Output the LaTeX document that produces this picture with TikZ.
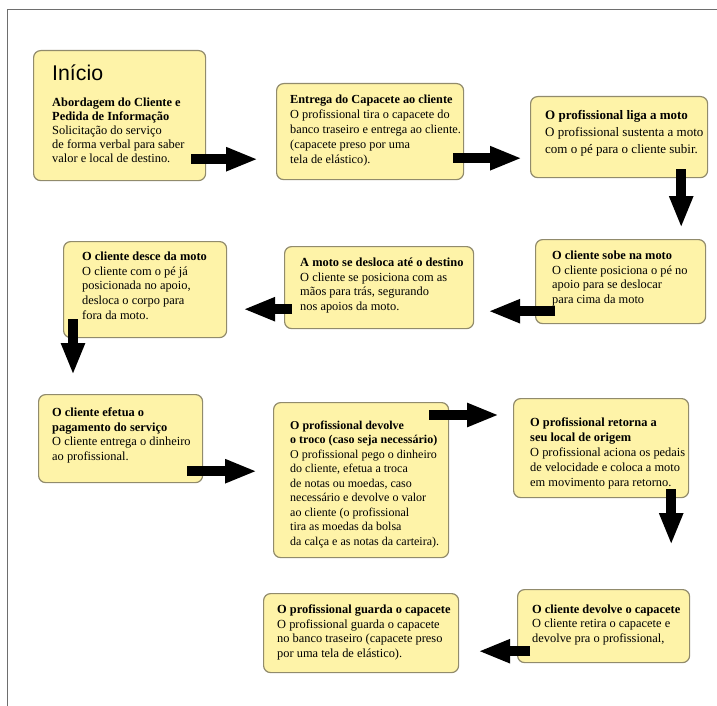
\documentclass[tikz,border=0pt]{standalone}
\usepackage{fontspec}
\setmainfont{Liberation Serif}
\newfontfamily\titulofont{Liberation Sans}
\usepackage{tikz}
\usetikzlibrary{arrows.meta,positioning,calc}
\definecolor{fundoEtapa}{RGB}{254,243,168}
\definecolor{bordaEtapa}{RGB}{145,139,108}
\definecolor{molduraCinza}{RGB}{110,110,110}

\begin{document}
\begin{tikzpicture}[x=1pt,y=-1pt,
  etapa/.style={draw=bordaEtapa,fill=fundoEtapa,rounded corners=7pt,line width=1.2pt,anchor=north west,inner sep=0pt},
  texto/.style={align=left,inner sep=0pt,font=\fontsize{12.4}{14.8}\selectfont},
  seta/.style={line width=10pt,-{Triangle[length=32pt,width=22pt]}}
]
  \useasboundingbox (0,0) rectangle (717,706);
  \draw[molduraCinza,line width=0.9pt] (7,706) -- (7,9) -- (717,9);

  \node[etapa,minimum width=172pt,minimum height=130pt] (inicio) at (33,50) {};
  \node[etapa,minimum width=187pt,minimum height=96pt] (entrega) at (276,83) {};
  \node[etapa,minimum width=177pt,minimum height=81pt] (liga) at (530,96) {};
  \node[etapa,minimum width=170pt,minimum height=84pt] (sobe) at (535,239) {};
  \node[etapa,minimum width=189pt,minimum height=82pt] (desloca) at (284,246) {};
  \node[etapa,minimum width=163pt,minimum height=96pt] (desce) at (63,241) {};
  \node[etapa,minimum width=164pt,minimum height=88pt] (pagamento) at (38,394) {};
  \node[etapa,minimum width=175pt,minimum height=155pt] (troco) at (273,402) {};
  \node[etapa,minimum width=175pt,minimum height=99pt] (retorna) at (513,398) {};
  \node[etapa,minimum width=172pt,minimum height=73pt] (devolve) at (517,589) {};
  \node[etapa,minimum width=195pt,minimum height=79pt] (guarda) at (263,593) {};

  \node[texto,font=\fontsize{12.4}{14}\selectfont,below right=15pt and 19pt of inicio.north west] (txinicio) {{\titulofont\fontsize{21.3}{24}\selectfont Início}\\[12pt]
    \textbf{Abordagem do Cliente e}\\ \textbf{Pedida de Informação}\\
    Solicitação do serviço\\ de forma verbal para saber\\ valor e local de destino.};
  \node[texto,font=\fontsize{12.3}{15}\selectfont,below right=11.4pt and 14pt of entrega.north west] (txentrega) {\textbf{Entrega do Capacete ao cliente}\\
    O profissional tira o capacete do\\ banco traseiro e entrega ao cliente.\\
    (capacete preso por uma\\ tela de elástico).};
  \node[texto,font=\fontsize{13}{17}\selectfont,below right=14pt and 15pt of liga.north west] (txliga) {\textbf{O profissional liga a moto}\\
    O profissional sustenta a moto\\ com o pé para o cliente subir.};
  \node[texto,below right=11.4pt and 17pt of sobe.north west] (txsobe) {\textbf{O cliente sobe na moto}\\
    O cliente posiciona o pé no\\ apoio para se deslocar\\ para cima da moto};
  \node[texto,below right=11.4pt and 16pt of desloca.north west] (txdesloca) {\textbf{A moto se desloca até o destino}\\
    O cliente se posiciona com as\\ mãos para trás, segurando\\ nos apoios da moto.};
  \node[texto,below right=10.4pt and 19pt of desce.north west] (txdesce) {\textbf{O cliente desce da moto}\\
    O cliente com o pé já\\ posicionada no apoio,\\ desloca o corpo para\\ fora da moto.};
  \node[texto,below right=13.4pt and 14pt of pagamento.north west] (txpagamento) {\textbf{O cliente efetua o}\\ \textbf{pagamento do serviço}\\
    O cliente entrega o dinheiro\\ ao profissional.};
  \node[texto,font=\fontsize{12}{14.5}\selectfont,below right=18.6pt and 17pt of troco.north west] (txtroco) {\textbf{O profissional devolve}\\
    \textbf{o troco (caso seja necessário)}\\
    O profissional pego o dinheiro\\ do cliente, efetua a troca\\ de notas ou moedas, caso\\
    necessário e devolve o valor\\ ao cliente (o profissional\\ tira as moedas da bolsa\\
    da calça e as notas da carteira).};
  \node[texto,below right=20pt and 17pt of retorna.north west] (txretorna) {\textbf{O profissional retorna a}\\ \textbf{seu local de origem}\\
    O profissional aciona os pedais\\ de velocidade e coloca a moto\\ em movimento para retorno.};
  \node[texto,font=\fontsize{12.4}{14.5}\selectfont,below right=15.4pt and 15pt of devolve.north west] (txdevolve) {\textbf{O cliente devolve o capacete}\\
    O cliente retira o capacete e\\ devolve pra o profissional,};
  \node[texto,below right=11.4pt and 14pt of guarda.north west] (txguarda) {\textbf{O profissional guarda o capacete}\\
    O profissional guarda o capacete\\ no banco traseiro (capacete preso\\ por uma tela de elástico).};

  \coordinate (s1) at ($(inicio.south east)+(-15,-22)$);
  \coordinate (s2) at ($(entrega.south east)+(-11,-22)$);
  \coordinate (s3) at ($(liga.south east)+(-27,-9)$);
  \coordinate (s4) at ($(sobe.south west)+(20,-13)$);
  \coordinate (s5) at ($(desloca.south west)+(8,-20)$);
  \coordinate (s6) at ($(desce.south west)+(10,-19)$);
  \coordinate (s7) at ($(pagamento.south east)+(-16,-12)$);
  \coordinate (s8) at ($(troco.north east)+(-20,13)$);
  \coordinate (s9) at ($(retorna.south east)+(-18,-9)$);
  \coordinate (s10) at ($(devolve.south west)+(13,-12)$);
  \draw[seta] (s1) -- ($(entrega.west |- s1)+(-18,0)$);
  \draw[seta] (s2) -- ($(liga.west |- s2)+(-8,0)$);
  \draw[seta] (s3) -- ($(sobe.north -| s3)+(0,-11)$);
  \draw[seta] (s4) -- ($(desloca.east |- s4)+(14,0)$);
  \draw[seta] (s5) -- ($(desce.east |- s5)+(16,0)$);
  \draw[seta] (s6) -- ($(pagamento.north -| s6)+(0,-19)$);
  \draw[seta] (s7) -- ($(troco.west |- s7)+(-16,0)$);
  \draw[seta] (s8) -- ($(retorna.west |- s8)+(-14,0)$);
  \draw[seta] (s9) -- ($(devolve.north -| s9)+(0,-44)$);
  \draw[seta] (s10) -- ($(guarda.east |- s10)+(19,0)$);
\end{tikzpicture}
\end{document}
